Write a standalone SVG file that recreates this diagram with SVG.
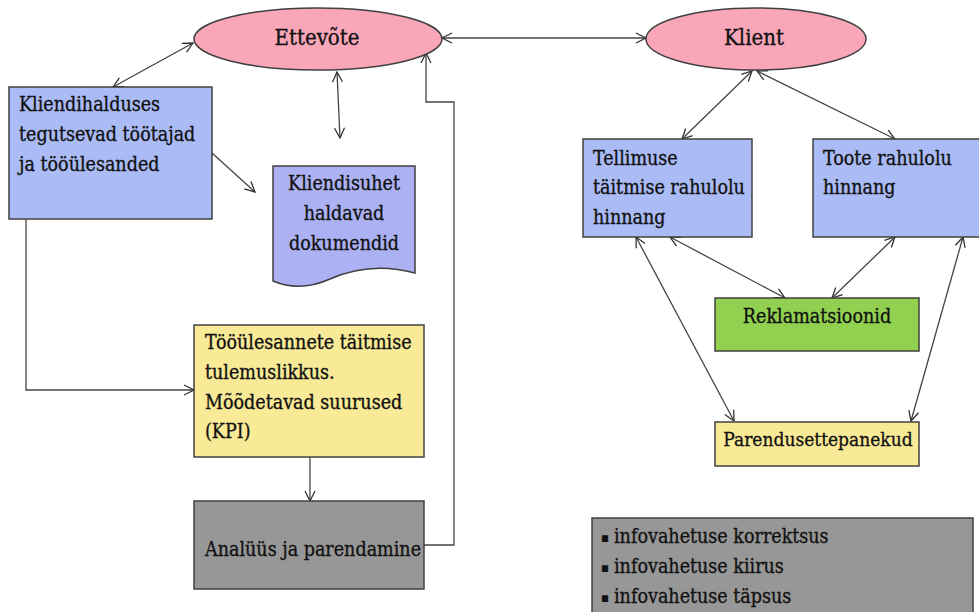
<svg xmlns="http://www.w3.org/2000/svg" width="979" height="612" viewBox="0 0 979 612">
  <defs>
    <marker id="arrow" viewBox="0 0 12 12" refX="11" refY="6" markerWidth="12" markerHeight="12" markerUnits="userSpaceOnUse" orient="auto-start-reverse">
      <path d="M1,1 L11,6 L1,11" fill="none" stroke="#333" stroke-width="1.3"/>
    </marker>
    <style>
      .box { stroke: #404040; stroke-width: 1.5; }
      .oval { fill: #f9a6b9; stroke: #404040; stroke-width: 1.5; }
      .blue { fill: #aabbf5; }
      .doc { fill: #abb1f2; }
      .yellow { fill: #f8ea96; }
      .green { fill: #92d050; }
      .gray { fill: #979797; }
      text { font-family: 'DejaVu Serif Condensed', 'DejaVu Serif', serif; font-stretch: condensed; font-size: 19.5px; fill: #111; stroke: #111; stroke-width: 0.3; }
      .big { font-size: 22px; }
      .mid { text-anchor: middle; }
      .bul { font-size: 13px; }
      .conn { fill: none; stroke: #444; stroke-width: 1.3; }
      .both { marker-start: url(#arrow); marker-end: url(#arrow); }
      .end { marker-end: url(#arrow); }
    </style>
  </defs>

  <rect width="979" height="612" fill="#fff"/>

  <!-- connectors -->
  <g id="connectors">
    <path class="conn both" d="M442,38 L646,38"/>
    <path class="conn both" d="M113,87 L193,43"/>
    <path class="conn both" d="M337,72 L340,138"/>
    <path class="conn end" d="M212,153 L255,192"/>
    <path class="conn end" d="M26,219 V390 H194"/>
    <path class="conn end" d="M310,457 V501"/>
    <path class="conn end" d="M424,545 H454 V102 H426 V53"/>
    <path class="conn both" d="M752,71 L682,139"/>
    <path class="conn both" d="M757,71 L895,139"/>
    <path class="conn both" d="M670,237 L785,298"/>
    <path class="conn both" d="M895,237 L832,298"/>
    <path class="conn both" d="M636,237 L734,421"/>
    <path class="conn both" d="M963,237 L911,421"/>
  </g>

  <g id="ettevote">
    <ellipse class="oval" cx="318" cy="39" rx="124" ry="31"/>
    <text class="big mid" x="317" y="45">Ettevõte</text>
  </g>

  <g id="klient">
    <ellipse class="oval" cx="756" cy="39" rx="110" ry="31"/>
    <text class="big mid" x="754" y="45">Klient</text>
  </g>

  <g id="kliendihalduses">
    <rect class="box blue" x="9" y="87" width="203" height="132"/>
    <text x="19" y="111">Kliendihalduses</text>
    <text x="19" y="141">tegutsevad töötajad</text>
    <text x="19" y="171">ja tööülesanded</text>
  </g>

  <g id="dokumendid">
    <path class="box doc" d="M273,166 H415 V273 C385,265 355,268 330,279 C310,288 292,289 273,281 Z"/>
    <text class="mid" x="344" y="190">Kliendisuhet</text>
    <text class="mid" x="344" y="220">haldavad</text>
    <text class="mid" x="344" y="250">dokumendid</text>
  </g>

  <g id="kpi">
    <rect class="box yellow" x="194" y="325" width="230" height="132"/>
    <text x="205" y="349">Tööülesannete täitmise</text>
    <text x="205" y="379">tulemuslikkus.</text>
    <text x="205" y="409">Mõõdetavad suurused</text>
    <text x="205" y="438">(KPI)</text>
  </g>

  <g id="analyys">
    <rect class="box gray" x="194" y="501" width="230" height="88"/>
    <text x="205" y="556">Analüüs ja parendamine</text>
  </g>

  <g id="tellimus">
    <rect class="box blue" x="583" y="139" width="169" height="98"/>
    <text x="593" y="165">Tellimuse</text>
    <text x="593" y="194">täitmise rahulolu</text>
    <text x="593" y="224">hinnang</text>
  </g>

  <g id="toode">
    <rect class="box blue" x="813" y="139" width="172" height="98"/>
    <text x="823" y="165">Toote rahulolu</text>
    <text x="823" y="194">hinnang</text>
  </g>

  <g id="reklamatsioonid">
    <rect class="box green" x="715" y="298" width="204" height="53"/>
    <text class="mid" x="817" y="323">Reklamatsioonid</text>
  </g>

  <g id="parendus">
    <rect class="box yellow" x="715" y="422" width="204" height="44"/>
    <text class="mid" x="818" y="446" style="font-size:19px">Parendusettepanekud</text>
  </g>

  <g id="infovahetus">
    <rect class="box gray" x="592" y="518" width="381" height="110"/>
    <text x="601" y="542"><tspan class="bul">▪</tspan><tspan x="614" y="543">infovahetuse korrektsus</tspan></text>
    <text x="601" y="572"><tspan class="bul">▪</tspan><tspan x="614" y="573">infovahetuse kiirus</tspan></text>
    <text x="601" y="602"><tspan class="bul">▪</tspan><tspan x="614" y="603">infovahetuse täpsus</tspan></text>
  </g>
</svg>
